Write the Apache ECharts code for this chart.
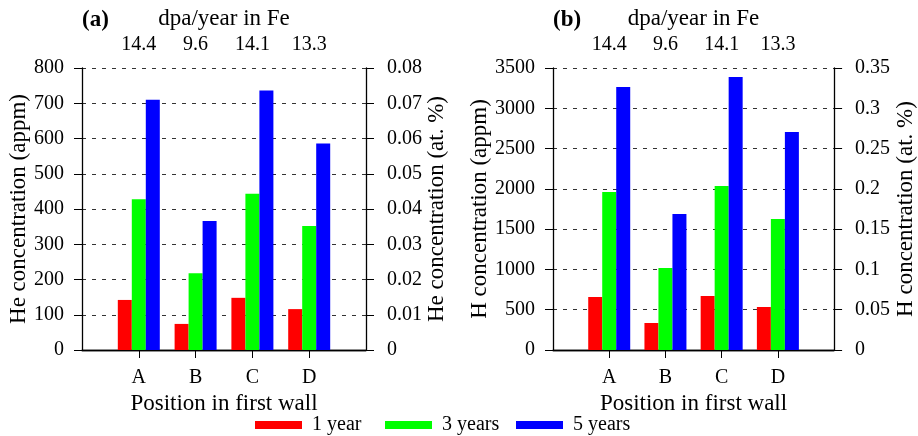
<!DOCTYPE html>
<html>
<head>
<meta charset="utf-8">
<script src="https://cdn.jsdelivr.net/npm/echarts@6/dist/echarts.min.js"></script>
<style>
  html, body { margin: 0; padding: 0; background: #fff; }
  #chart { width: 918px; height: 436px; }
</style>
</head>
<body>
<div id="chart"></div>
<script>
// positions in first wall (padded with empty slots at both ends)
var positions = ['', 'A', 'B', 'C', 'D', ''];
var dpaLabels = ['', '14.4', '9.6', '14.1', '13.3', ''];
var years = ['1 year', '3 years', '5 years'];
var colors = ['#ff0000', '#00ff00', '#0000ff'];

// (a) He concentration, appm
var he1 = [142, 74, 148, 116];
var he3 = [428, 218, 443, 352];
var he5 = [710, 366, 736, 586];

// (b) H concentration, appm
var h1 = [658, 335, 670, 534];
var h3 = [1961, 1018, 2035, 1626];
var h5 = [3264, 1688, 3388, 2706];

var FONT = '"Liberation Serif", "Times New Roman", serif';
var black = '#000';
var TICK_FS = 20;
var NAME_FS = 23;

function pad(arr) {
  return [null].concat(arr).concat([null]);
}

// x axes: bottom category + top with dpa labels
function xAxes(gi) {
  var showTick = function (i) { return i >= 1 && i <= 4; };
  return [
    {
      gridIndex: gi, type: 'category', data: positions, boundaryGap: false,
      position: 'bottom',
      name: 'Position in first wall', nameLocation: 'middle', nameGap: 32,
      nameTextStyle: { fontFamily: FONT, fontSize: NAME_FS, color: black },
      axisLine: { lineStyle: { color: black, width: 1.3 } },
      axisTick: { interval: showTick, length: 8, lineStyle: { color: black } },
      axisLabel: { interval: 0, margin: 18, fontFamily: FONT, fontSize: TICK_FS, color: black },
      splitLine: { show: false }
    },
    {
      gridIndex: gi, type: 'category', data: dpaLabels, boundaryGap: false,
      position: 'top',
      name: 'dpa/year in Fe', nameLocation: 'middle', nameGap: 31,
      nameTextStyle: { fontFamily: FONT, fontSize: NAME_FS, color: black },
      axisLine: { lineStyle: { color: black, width: 1.3 } },
      axisTick: { interval: showTick, length: 8, lineStyle: { color: black } },
      axisLabel: { interval: 0, margin: 13, fontFamily: FONT, fontSize: TICK_FS, color: black },
      splitLine: { show: false }
    }
  ];
}

function yAxes(gi, leftName, rightName, max, interval, rmax, rinterval) {
  return [
    {
      gridIndex: gi, type: 'value', position: 'left',
      min: 0, max: max, interval: interval,
      name: leftName, nameLocation: 'middle', nameGap: 50,
      nameTextStyle: { fontFamily: FONT, fontSize: NAME_FS, color: black },
      axisLine: { show: true, lineStyle: { color: black, width: 1.3 } },
      axisTick: { show: true, length: 8, lineStyle: { color: black } },
      axisLabel: {
        margin: 18, fontFamily: FONT, fontSize: TICK_FS, color: black,
        formatter: function (v) { return String(v); }
      },
      splitLine: { show: true, lineStyle: { color: '#333', type: [4, 6], width: 1 } }
    },
    {
      gridIndex: gi, type: 'value', position: 'right',
      min: 0, max: rmax, interval: rinterval,
      name: rightName, nameLocation: 'middle', nameGap: 59, nameRotate: 90,
      nameTextStyle: { fontFamily: FONT, fontSize: NAME_FS, color: black },
      axisLine: { show: true, lineStyle: { color: black, width: 1.3 } },
      axisTick: { show: true, length: 8, lineStyle: { color: black } },
      axisLabel: {
        margin: 21, fontFamily: FONT, fontSize: TICK_FS, color: black,
        formatter: function (v) { return String(parseFloat(v.toFixed(3))); }
      },
      splitLine: { show: false }
    }
  ];
}

function bars(gi, datasets) {
  return datasets.map(function (d, k) {
    return {
      name: years[k], type: 'bar',
      xAxisIndex: gi * 2, yAxisIndex: gi * 2,
      data: pad(d), barWidth: 14, barGap: '0%',
      itemStyle: { color: colors[k] },
      silent: true
    };
  });
}

var chart = echarts.init(document.getElementById('chart'));

var option = {
  animation: false,
  backgroundColor: '#fff',
  textStyle: { fontFamily: FONT },
  grid: [
    { left: 82, right: 552, top: 68, bottom: 86 },
    { left: 553, right: 81, top: 68, bottom: 86 }
  ],
  xAxis: xAxes(0).concat(xAxes(1)),
  yAxis: yAxes(0, 'He concentration (appm)', 'He concentration (at. %)', 800, 100, 0.08, 0.01)
    .concat(yAxes(1, 'H concentration (appm)', 'H concentration (at. %)', 3500, 500, 0.35, 0.05)),
  legend: [255, 385, 516].map(function (x, k) {
    return {
      data: [years[k]], left: x, top: 415, padding: 0,
      icon: 'rect', itemWidth: 47, itemHeight: 8,
      textStyle: { fontFamily: FONT, fontSize: 20, color: black, padding: [0, 0, 0, 5] },
      selectedMode: false
    };
  }),
  graphic: [
    { type: 'text', left: 82, top: 9, style: { text: '(a)', font: 'bold 23px "Liberation Serif"', fill: black } },
    { type: 'text', left: 553, top: 9, style: { text: '(b)', font: 'bold 23px "Liberation Serif"', fill: black } }
  ],
  series: bars(0, [he1, he3, he5]).concat(bars(1, [h1, h3, h5]))
};

chart.setOption(option);
</script>
</body>
</html>
